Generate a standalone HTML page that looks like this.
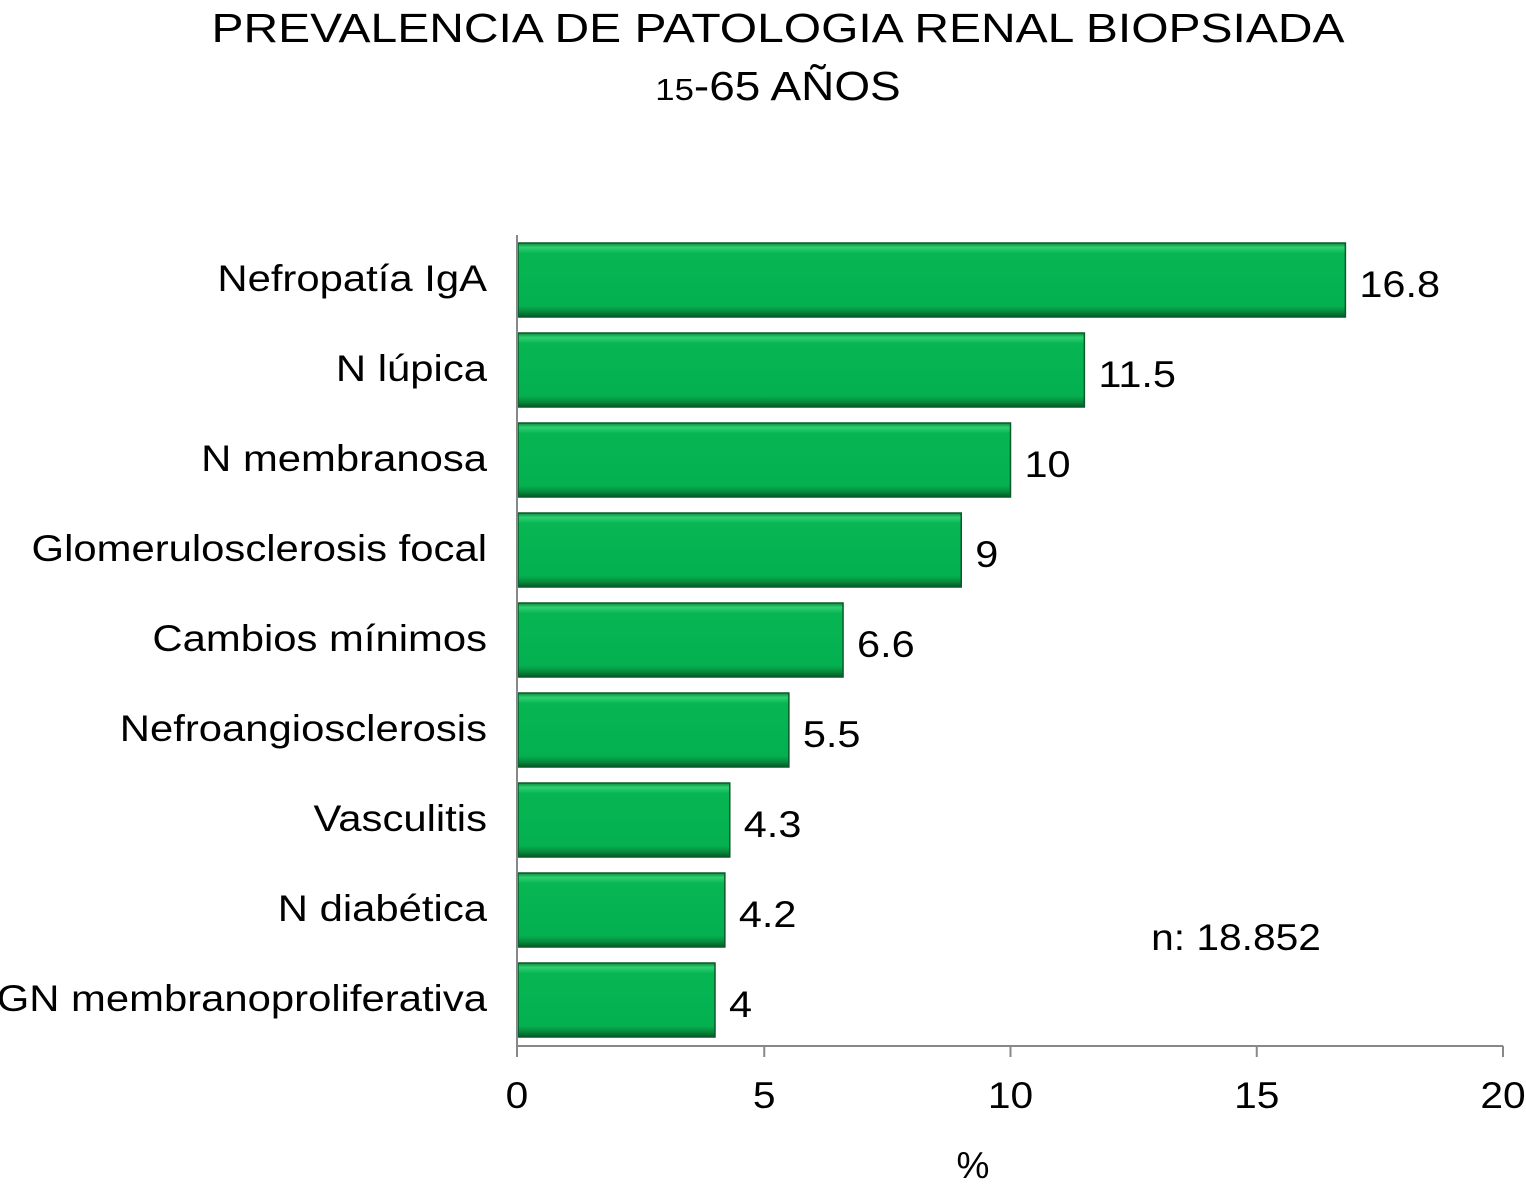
<!DOCTYPE html>
<html><head><meta charset="utf-8"><style>
body{margin:0;background:#fff}
svg{display:block;font-family:"Liberation Sans",sans-serif}
</style></head><body>
<svg id="chart" width="1526" height="1189">
<defs>
<linearGradient id="g" x1="0" y1="0" x2="0" y2="1">
<stop offset="0" stop-color="#0a8a3e"/><stop offset="0.06" stop-color="#2fd070"/><stop offset="0.14" stop-color="#07b653"/><stop offset="0.85" stop-color="#04b050"/><stop offset="0.93" stop-color="#068a3c"/><stop offset="1" stop-color="#045a26"/>
</linearGradient>
</defs>
<text class="st" data-f="1.17" x="778" y="42" font-size="41" text-anchor="middle">PREVALENCIA DE PATOLOGIA RENAL BIOPSIADA</text>
<text class="st" data-f="1.12" x="778" y="100" font-size="41" text-anchor="middle"><tspan font-size="31">15</tspan>-65 AÑOS</text>
<g id="bars"></g>
<text class="st" data-f="1.1" x="1236" y="950" font-size="37" text-anchor="middle">n: 18.852</text>
<text x="973" y="1178" font-size="37" text-anchor="middle">%</text>
</svg>
<script>
const categories=["Nefropatía IgA","N lúpica","N membranosa","Glomerulosclerosis focal","Cambios mínimos","Nefroangiosclerosis","Vasculitis","N diabética","GN membranoproliferativa"];
const values=[16.8,11.5,10,9,6.6,5.5,4.3,4.2,4];
const ticks=[0,5,10,15,20];
const x0=518,x1=1503,xmax=20,top0=235,bottom=1046,step=90;
const xs=v=>x0+(x1-x0)*v/xmax;
const ns="http://www.w3.org/2000/svg";
const g=document.getElementById('bars');
function mk(t,a){const e=document.createElementNS(ns,t);for(const k in a)e.setAttribute(k,a[k]);g.appendChild(e);return e;}
categories.forEach((c,i)=>{
 const cy=top0+45+i*step, y=cy-37, w=xs(values[i])-x0;
 const r=mk('rect',{x:x0,y:y,width:w,height:74,fill:'url(#g)',stroke:'#0a5a2a','stroke-width':1.5});
 
 
 const t=mk('text',{x:487,y:cy+11,'font-size':37,'text-anchor':'end',class:'st','data-f':'1.13'});t.textContent=c;
 
 
 const v=mk('text',{x:xs(values[i])+14,y:cy+17,'font-size':37,class:'st','data-f':'1.12'});v.textContent=values[i];
 
 
});
const ya=mk('line',{x1:517,y1:top0,x2:517,y2:bottom,stroke:'#888','stroke-width':2});


const xa=mk('line',{x1:517,y1:bottom,x2:x1,y2:bottom,stroke:'#888','stroke-width':2});


ticks.forEach(t=>{
 const x=t===0?517:xs(t);
 const l=mk('line',{x1:x,y1:bottom,x2:x,y2:bottom+11,stroke:'#888','stroke-width':2});
 
 
 const tx=mk('text',{x:x,y:1108,'font-size':37,'text-anchor':'middle',class:'st','data-f':'1.1'});tx.textContent=t;
 
 
});
document.querySelectorAll('.st').forEach(e=>{
 const L=e.getComputedTextLength();
 e.setAttribute('textLength',L*parseFloat(e.getAttribute('data-f')));
 e.setAttribute('lengthAdjust','spacingAndGlyphs');
});
</script>
</body></html>
